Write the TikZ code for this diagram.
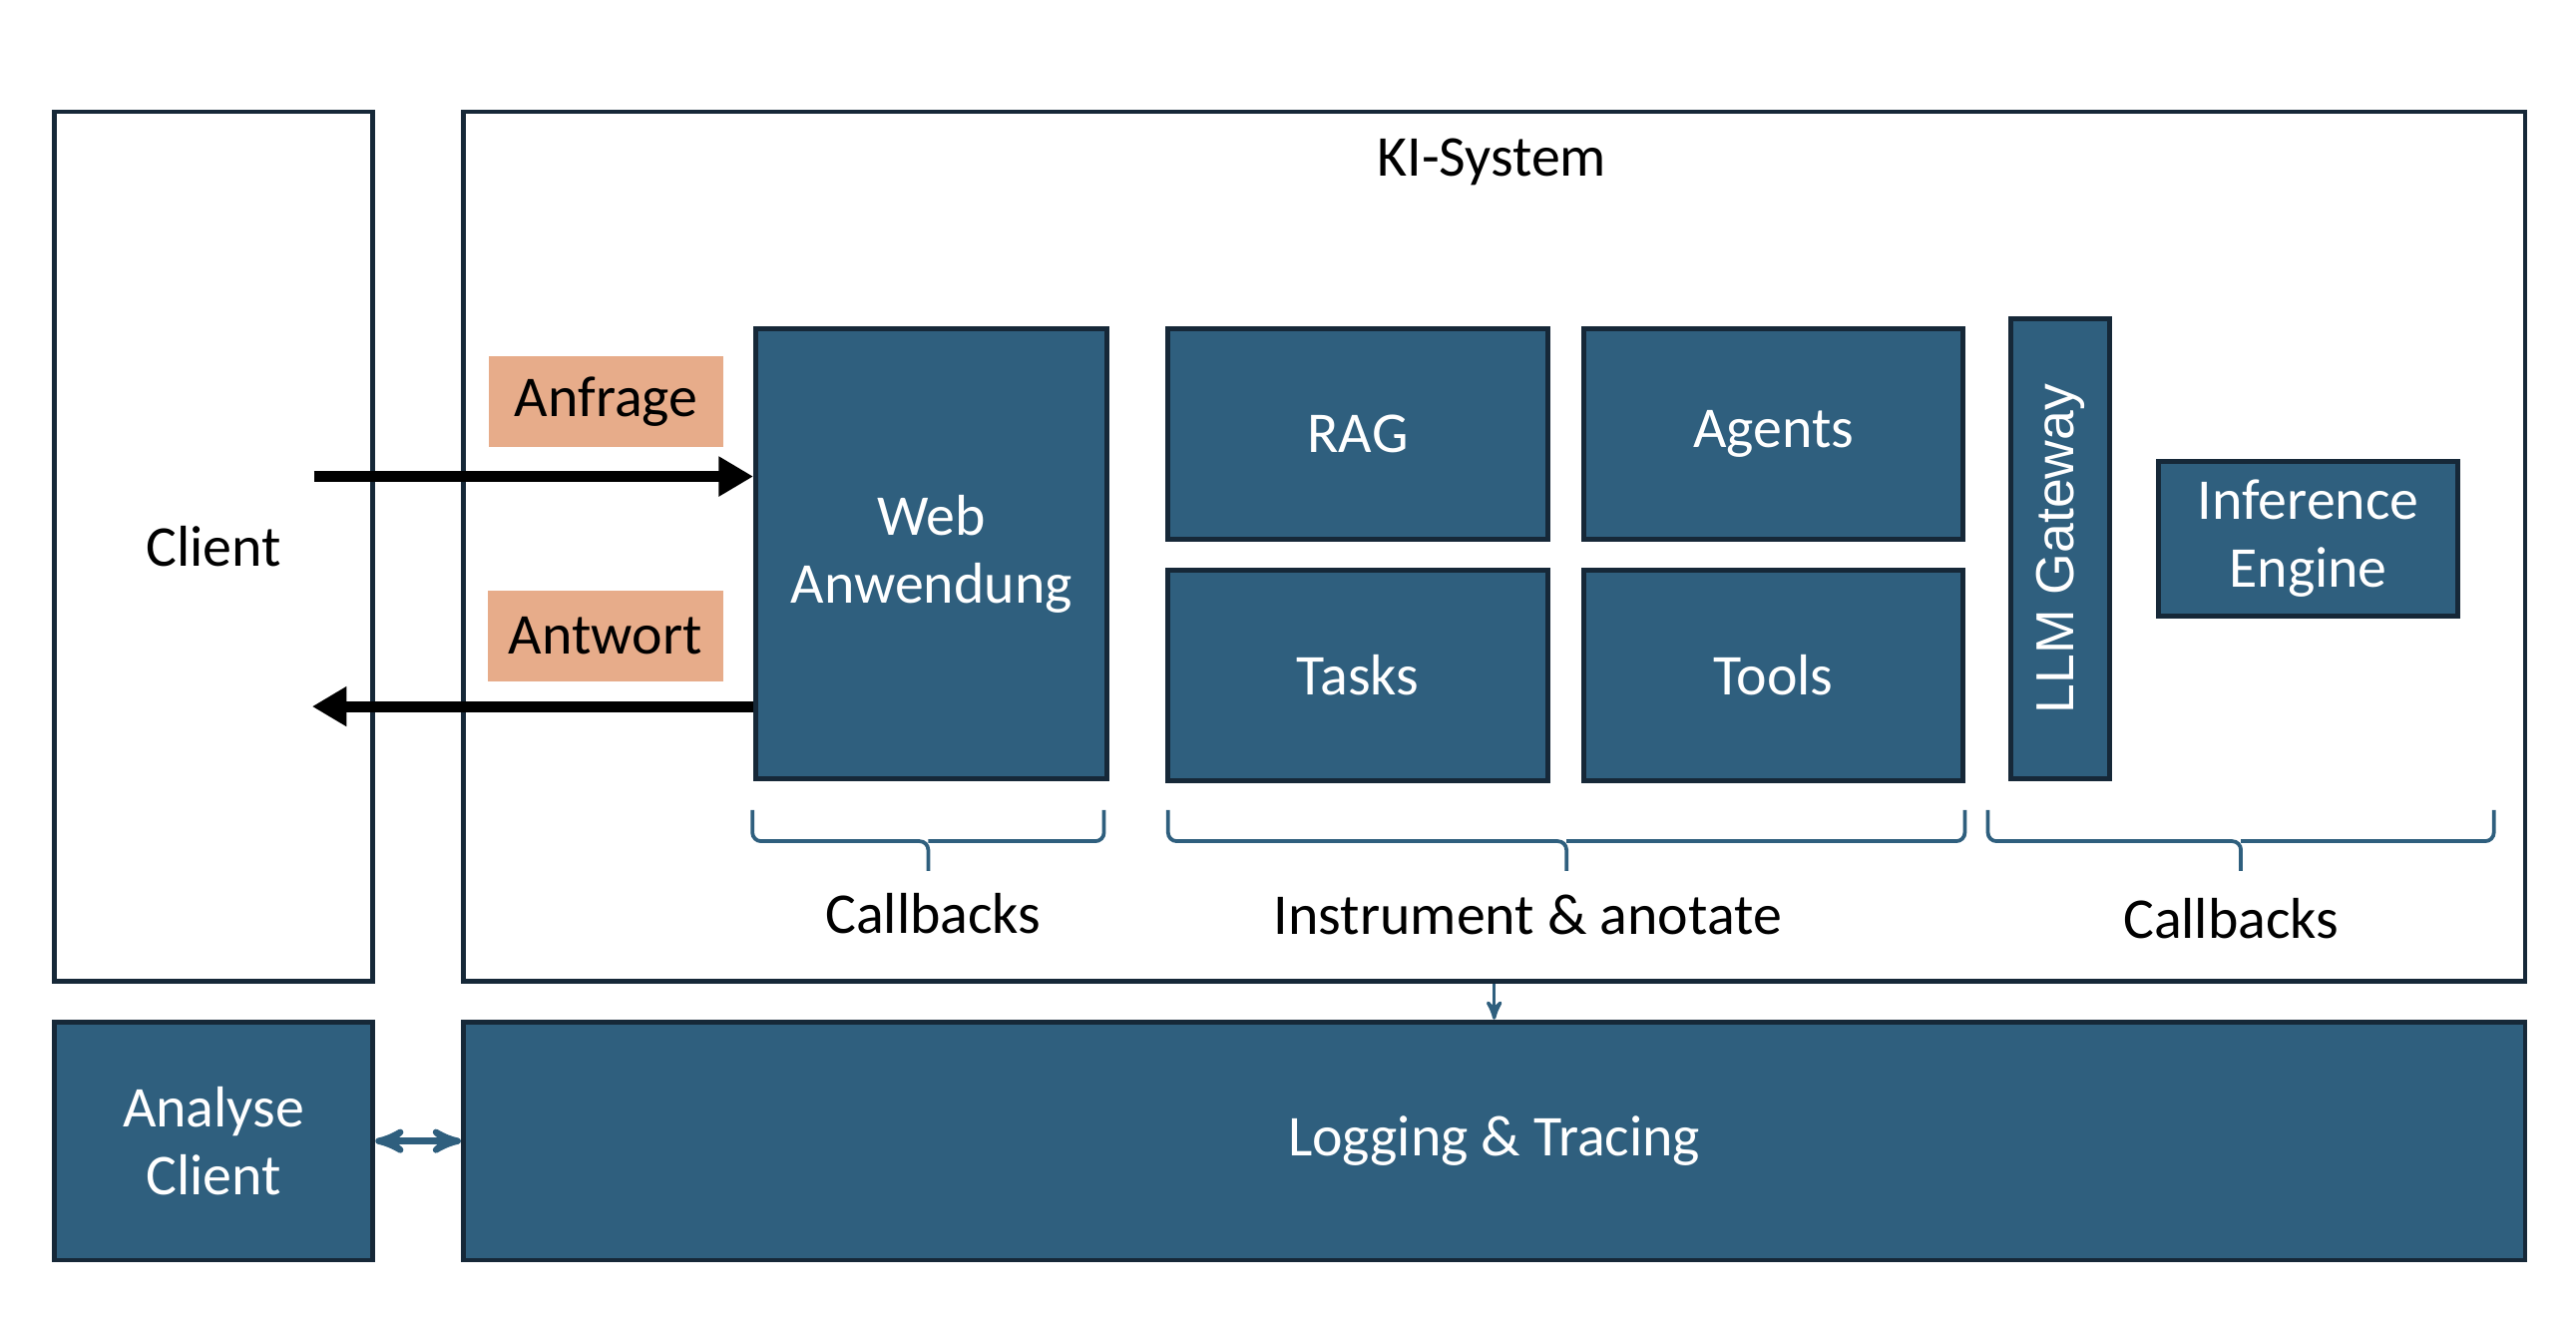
\documentclass[tikz,border=0pt]{standalone}
\usepackage{fontspec}
\setmainfont{Carlito}
\newfontfamily\gwfont{Liberation Sans}
\usetikzlibrary{arrows,arrows.meta,positioning,calc}

\definecolor{kiblue}{RGB}{47,95,126}
\definecolor{kiline}{RGB}{22,40,56}
\definecolor{kitag}{RGB}{231,172,138}

\begin{document}
\begin{tikzpicture}[>=stealth',semithick,
  box/.style={draw=kiline,line width=1.7pt,inner sep=0pt},
  block/.style={draw=kiline,fill=kiblue,line width=1.7pt,text=white,align=center,inner sep=0pt},
  tag/.style={fill=kitag,inner sep=0pt,minimum width=2.86cm,minimum height=1.1cm},
  brace/.style={draw=kiblue,line width=1.3pt,rounded corners=3pt},
  flow/.style={line width=3.8pt,-{Triangle[length=0.42cm,width=0.46cm]}}]
\tikzset{every node/.append style={font=\fontsize{20}{23.5}\selectfont}}

\useasboundingbox (0,0) rectangle (31.36,-16.08);

% client and system frame
\node[box,minimum width=3.88cm,minimum height=10.58cm]	(client)	at (2.6,-6.65)	{Client};
\node[box,minimum width=25.1cm,minimum height=10.58cm]	(ki)	at (18.19,-6.65)	{};
\node	(kititle)	at ($(ki.north)+(-0.03,-0.64)$)	{KI-System};

% components
\node[block,minimum width=4.28cm,minimum height=5.48cm]	(web)	at (11.34,-6.74)	{Web\\Anwendung};
\node[block,minimum width=4.62cm,minimum height=2.56cm]	(rag)	at (16.53,-5.28)	{RAG};
\node[block,minimum width=4.62cm,minimum height=2.56cm]	(agents)	[right=0.38cm of rag]	{Agents\vphantom{g}};
\node[block,minimum width=4.62cm,minimum height=2.56cm]	(tasks)	[below=0.32cm of rag]	{Tasks};
\node[block,minimum width=4.62cm,minimum height=2.56cm]	(tools)	[below=0.32cm of agents]	{Tools};
\node[block,rotate=90,minimum width=5.6cm,minimum height=1.2cm,font=\gwfont\fontsize{18.5}{20}\selectfont]	(llm)	at (25.08,-6.68)	{LLM Gateway};
\node[block,minimum width=3.64cm,minimum height=1.88cm]	(engine)	at (28.1,-6.56)	{Inference\\Engine};

% request / response
\node[tag]	(anfrage)	at (7.38,-4.89)	{Anfrage};
\node[tag]	(antwort)	at (7.37,-7.74)	{Antwort};
\coordinate	(req)	at (3.82,-5.8);
\coordinate	(resp)	at (3.8,-8.6);
\draw[flow]	(req)	--	(req -| web.west);
\draw[flow]	(resp -| web.west)	--	(resp);

% braces
\draw[brace]	(9.16,-9.86) |- (11.3,-10.24) -- (11.3,-10.6) (11.3,-10.24) -| (13.44,-9.86);
\draw[brace]	(14.22,-9.86) |- (19.07,-10.24) -- (19.07,-10.6) (19.07,-10.24) -| (23.92,-9.86);
\draw[brace]	(24.2,-9.86) |- (27.28,-10.24) -- (27.28,-10.6) (27.28,-10.24) -| (30.36,-9.86);
\node	(cbweb)	at (11.36,-11.12)	{Callbacks};
\node	(instr)	at (18.6,-11.14)	{Instrument \& anotate};
\node	(cbllm)	at (27.16,-11.18)	{Callbacks};

% logging
\node[block,minimum width=3.88cm,minimum height=2.9cm]	(analyse)	at (2.6,-13.89)	{Analyse\\Client};
\node[block,minimum width=25.1cm,minimum height=2.9cm]	(log)	at (18.19,-13.89)	{Logging \& Tracing};
\draw[->,kiblue,line width=1.2pt]	(ki)	--	(log);
\draw[<->,kiblue,line width=2.2pt]	(analyse)	--	(log);
\end{tikzpicture}
\end{document}
